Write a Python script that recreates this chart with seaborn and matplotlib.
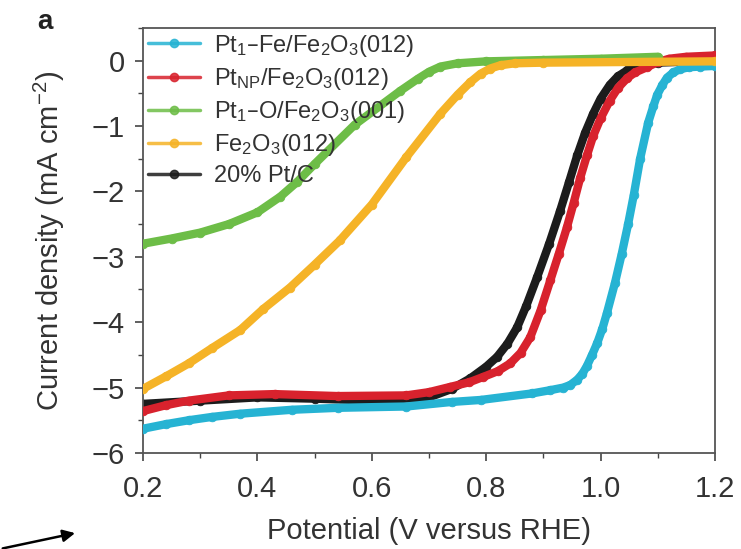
#!/usr/bin/env python3
import numpy as np
import pandas as pd
import matplotlib
matplotlib.use("Agg")
import matplotlib.pyplot as plt
from matplotlib.lines import Line2D
from matplotlib.ticker import MultipleLocator
import seaborn as sns

# Values
pt1fe_x = [0.20, 0.24, 0.28, 0.32, 0.37, 0.46, 0.54, 0.66, 0.74, 0.79, 0.88, 0.912, 0.935, 0.947,
           0.959, 0.968, 0.976, 0.985, 0.994, 1.003, 1.011, 1.025, 1.037, 1.048, 1.058, 1.069,
           1.083, 1.092, 1.099, 1.108, 1.116, 1.127, 1.139, 1.155, 1.174, 1.20]
pt1fe_y = [-5.63, -5.56, -5.50, -5.45, -5.40, -5.34, -5.31, -5.29, -5.22, -5.19, -5.09, -5.04, -5.00, -4.96,
           -4.88, -4.79, -4.67, -4.50, -4.32, -4.10, -3.86, -3.40, -2.95, -2.50, -2.05, -1.50,
           -0.95, -0.70, -0.52, -0.37, -0.26, -0.18, -0.13, -0.10, -0.09, -0.08]

ptnp_x = [0.20, 0.24, 0.28, 0.35, 0.43, 0.54, 0.66, 0.70, 0.737, 0.77, 0.794, 0.82, 0.842, 0.86,
          0.877, 0.895, 0.912, 0.927, 0.941, 0.953, 0.964, 0.976, 0.987, 1.00, 1.016, 1.03,
          1.046, 1.06, 1.081, 1.10, 1.12, 1.15, 1.20]
ptnp_y = [-5.36, -5.27, -5.20, -5.12, -5.10, -5.13, -5.12, -5.07, -4.99, -4.92, -4.84, -4.75, -4.63, -4.47,
          -4.23, -3.82, -3.36, -2.95, -2.55, -2.17, -1.80, -1.45, -1.15, -0.88, -0.61, -0.42,
          -0.27, -0.18, -0.10, -0.02, 0.03, 0.06, 0.08]

pt1o_x = [0.20, 0.25, 0.30, 0.35, 0.40, 0.44, 0.47, 0.50, 0.57, 0.65, 0.68, 0.70, 0.72, 0.75,
          0.80, 0.90, 1.00, 1.10]
pt1o_y = [-2.80, -2.72, -2.63, -2.50, -2.32, -2.08, -1.85, -1.58, -0.98, -0.46, -0.28, -0.17, -0.09, -0.04,
          -0.01, 0.01, 0.03, 0.06]

fe2o3_x = [0.20, 0.24, 0.28, 0.32, 0.37, 0.41, 0.457, 0.50, 0.544, 0.60, 0.66, 0.72, 0.75, 0.772,
           0.79, 0.807, 0.825, 0.85, 0.90, 1.20]
fe2o3_y = [-5.02, -4.83, -4.63, -4.40, -4.12, -3.80, -3.47, -3.12, -2.75, -2.20, -1.48, -0.81, -0.52, -0.33,
           -0.20, -0.12, -0.07, -0.04, -0.03, -0.01]

ptc_x = [0.20, 0.30, 0.40, 0.50, 0.60, 0.70, 0.74, 0.772, 0.80, 0.819, 0.837, 0.854, 0.87, 0.889,
         0.91, 0.929, 0.945, 0.959, 0.973, 0.987, 1.00, 1.016, 1.03, 1.046, 1.064, 1.10, 1.20]
ptc_y = [-5.25, -5.20, -5.15, -5.17, -5.20, -5.15, -5.02, -4.86, -4.68, -4.53, -4.33, -4.08, -3.75, -3.31,
         -2.80, -2.30, -1.85, -1.45, -1.10, -0.81, -0.58, -0.37, -0.24, -0.15, -0.09, -0.03, 0.00]

labels = [r"Pt$_1$–Fe/Fe$_2$O$_3$(012)", r"Pt$_{NP}$/Fe$_2$O$_3$(012)",
          r"Pt$_1$–O/Fe$_2$O$_3$(001)", r"Fe$_2$O$_3$(012)", "20% Pt/C"]
colors = ["#26b3d3", "#d8222d", "#6dbd47", "#f5b327", "#1c1c1c"]
series = [(pt1fe_x, pt1fe_y), (ptnp_x, ptnp_y), (pt1o_x, pt1o_y),
          (fe2o3_x, fe2o3_y), (ptc_x, ptc_y)]

sns.set_theme(style="ticks")
plt.rcParams["font.family"] = ["Liberation Sans Narrow", "Liberation Sans", "DejaVu Sans"]
plt.rcParams["mathtext.default"] = "regular"

fig = plt.figure(figsize=(7.41, 5.49), dpi=100)
ax = fig.add_axes([0.193, 0.175, 0.772, 0.774])

# drawing order: black, red, cyan, green, orange (orange lies on top near 0)
order = [4, 1, 0, 2, 3]
for z, i in enumerate(order):
    x, y = series[i]
    df = pd.DataFrame({"x": x, "y": y})
    sns.lineplot(data=df, x="x", y="y", ax=ax, color=colors[i], lw=6,
                 marker="o", markersize=6.2, markeredgewidth=0.6,
                 markeredgecolor=colors[i], sort=False, zorder=2 + z)

ax.set_xlim(0.2, 1.2)
ax.set_ylim(-6, 0.5)
ax.xaxis.set_minor_locator(MultipleLocator(0.1))
ax.yaxis.set_minor_locator(MultipleLocator(0.5))
ax.set_xticks(np.arange(0.2, 1.21, 0.2))
ax.set_xticklabels(["0.2", "0.4", "0.6", "0.8", "1.0", "1.2"])
ax.set_yticks(range(-6, 1))
ax.set_yticklabels(["−6", "−5", "−4", "−3", "−2", "−1", "0"])

ax.tick_params(which="major", direction="out", length=6, width=1.2, colors="#444444",
               labelsize=21, labelcolor="#333333", pad=7)
ax.tick_params(axis="x", which="major", pad=10)
ax.tick_params(which="minor", direction="out", length=3.5, width=1.0, colors="#444444")
for s in ax.spines.values():
    s.set_color("#555555")
    s.set_linewidth(1.3)

ax.set_xlabel("Potential (V versus RHE)", fontsize=21, color="#333333", labelpad=10)
ax.set_ylabel(r"Current density (mA cm$^{-2}$)", fontsize=21, color="#333333", labelpad=18)

handles = [Line2D([0, 0.5, 1], [0, 0, 0], color=c, lw=2.5, alpha=0.85, marker="o",
                  markersize=6, markevery=[1]) for c in colors]
ax.legend(handles, labels, loc="upper left", frameon=False, fontsize=17,
          handlelength=2.2, handletextpad=0.6, labelspacing=0.3,
          borderaxespad=0.1, borderpad=0.1, labelcolor="#333333")

fig.text(0.05, 0.96, "a", fontsize=20, fontweight="bold", color="#222222",
         ha="left", va="center")
fig.add_artist(matplotlib.patches.FancyArrowPatch((0.0, 0.0), (0.105, 0.03),
               transform=fig.transFigure, arrowstyle="-|>", mutation_scale=18,
               color="black", lw=1.8))

fig.savefig("out.png", dpi=100)
